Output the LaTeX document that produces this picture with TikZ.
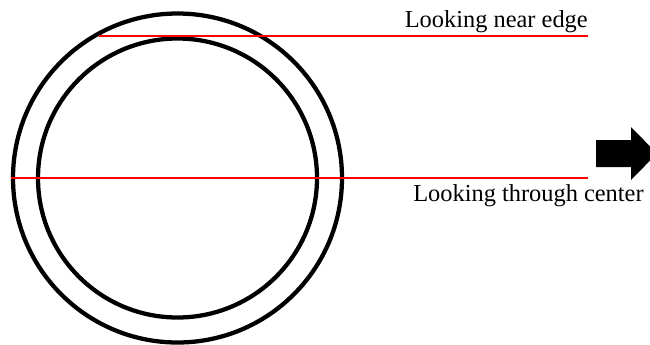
\documentclass[tikz,border=0pt]{standalone}
\usepackage{fontspec}
\setmainfont{Liberation Serif}
\usepackage{tikz}
\usepackage{xcolor}
\usetikzlibrary{positioning, calc}
\tikzset{
    ring/.style={circle, draw=black, line width=3.2pt, inner sep=0pt},
    sightline/.style={draw=red, line width=1.5pt},
    viewlabel/.style={font=\fontsize{18.3}{21}\selectfont, inner sep=0pt},
    bigarrow/.style={fill=black, draw=none}
}

\begin{document}
\begin{tikzpicture}[x=0.75pt, y=-0.75pt]
\useasboundingbox (0,0) rectangle (650,344);
\clip (0,0) rectangle (650,344);

% Tube walls
\node[ring, minimum size=246.75pt] (outer) at (177.5,178) {};
\node[ring, minimum size=209.25pt] (inner) at (177.5,178) {};

% Line of sight near the edge
\coordinate (nearstart) at (99,36);
\coordinate (nearend) at (588,36);
\draw[sightline] (nearstart) -- (nearend);
\node[viewlabel, anchor=base east] (nearlabel) at (588,27) {Looking near edge};

% Line of sight through the centre
\coordinate (centerend) at (588,178);
\draw[sightline] (outer.west) -- (centerend);
\node[viewlabel, anchor=base west] (centerlabel) at (413,201.5) {Looking through center};

% Direction arrow
\fill[bigarrow] (596,140) -- (631,140) -- (631,127) -- (657,153.5)
    -- (631,180) -- (631,167) -- (596,167) -- cycle;
\end{tikzpicture}
\end{document}
